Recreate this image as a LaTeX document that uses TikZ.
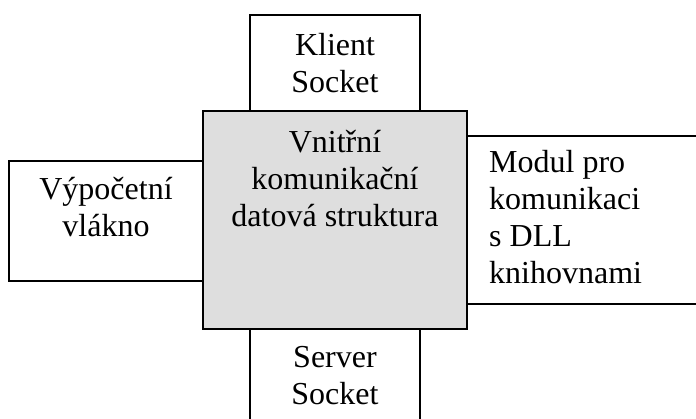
\documentclass[tikz,border=0pt]{standalone}
\usepackage{fontspec}
\setmainfont{Liberation Serif}
\begin{document}
\begin{tikzpicture}[x=1pt,y=-1pt,
  box/.style={draw=black,line width=1.3pt,fill=white,rectangle,inner sep=0pt},
  core/.style={box,fill=black!13},
  lbl/.style={inner sep=0pt,font=\fontsize{32}{37}\selectfont}]
\useasboundingbox (0,0) rectangle (696,419);
% surrounding modules
\node[box,minimum width=170,minimum height=96] (klient) at (335,63) {};
\node[box,minimum width=194,minimum height=120] (vlakno) at (106,221) {};
\node[box,minimum width=240,minimum height=168] (dll) at (587,220) {};
\node[box,minimum width=170,minimum height=100] (server) at (335,379) {};
% central shared structure
\node[core,minimum width=264,minimum height=218] (jadro) at (335,220) {};
% labels (anchored on the baseline of their last line)
\node[lbl,align=center,anchor=base] (tklient) at (335,93) {Klient\\Socket};
\node[lbl,align=center,anchor=base] (tjadro) at (335,227) {Vnitřní\\komunikační\\datová struktura};
\node[lbl,align=center,anchor=base] (tvlakno) at (106,237) {Výpočetní\\vlákno};
\node[lbl,align=left,anchor=base west] (tdll) at (489,284) {Modul pro\\komunikaci\\s DLL\\knihovnami};
\node[lbl,align=center,anchor=base] (tserver) at (335,405) {Server\\Socket};
\end{tikzpicture}
\end{document}
